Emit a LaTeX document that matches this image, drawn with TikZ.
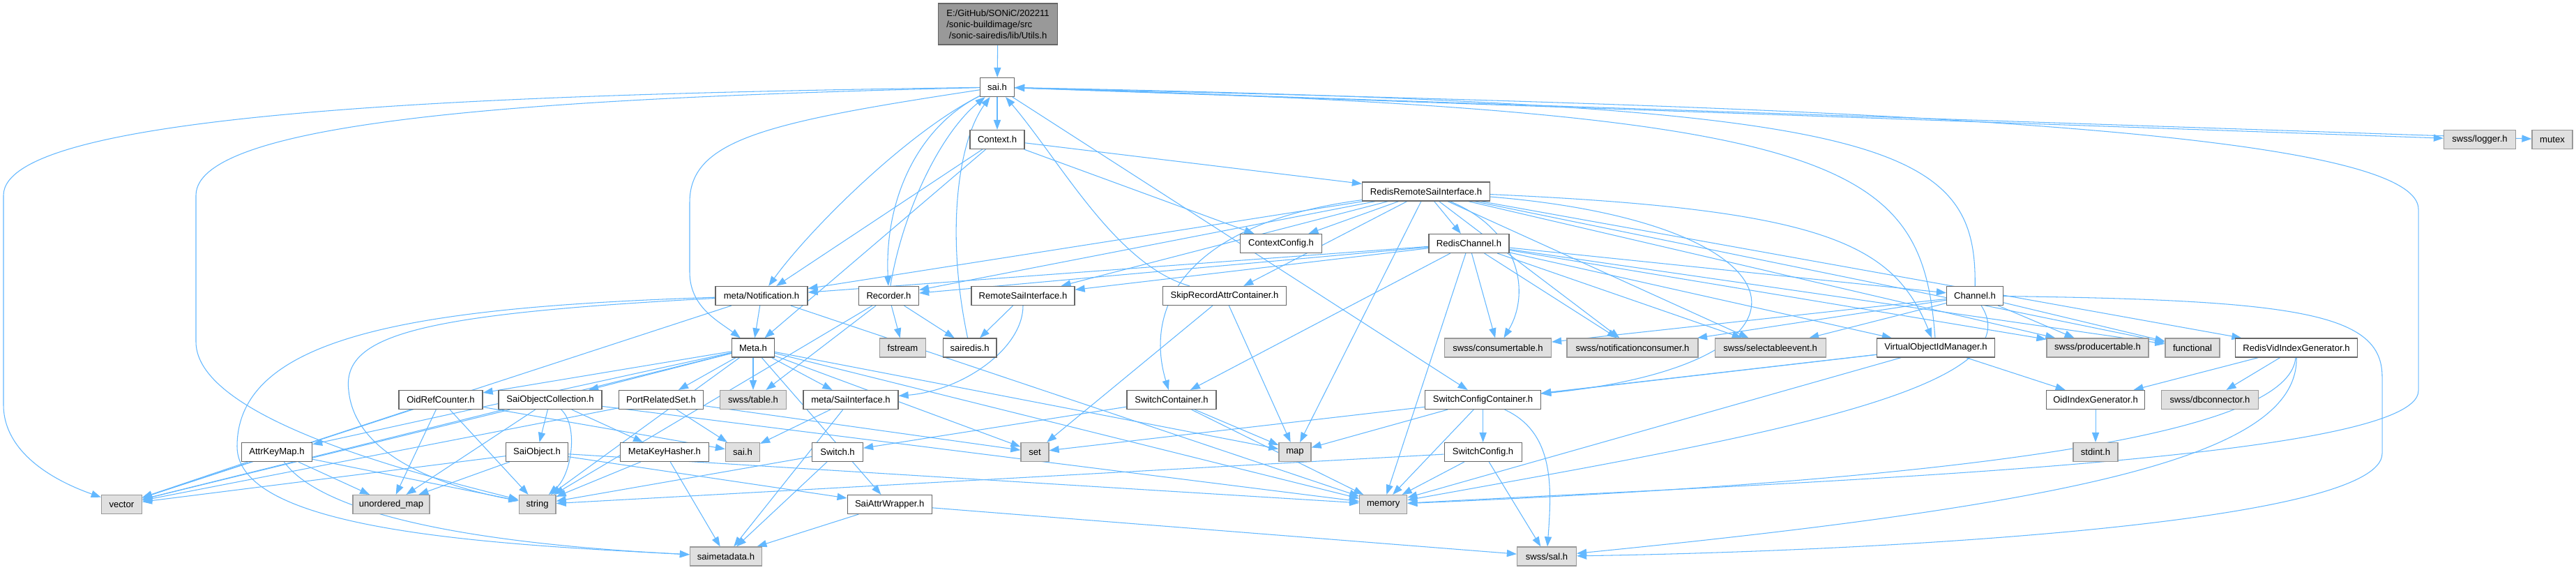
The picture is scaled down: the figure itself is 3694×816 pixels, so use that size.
\documentclass[tikz,border=0pt]{standalone}
\usepackage{fontspec}
\setmainfont{Liberation Sans}
\usepackage{tikz}
\usetikzlibrary{arrows.meta, backgrounds}
\definecolor{edgeblue}{HTML}{63B8FF}
\definecolor{docborder}{HTML}{666666}
\definecolor{sysborder}{HTML}{999999}
\definecolor{sysfill}{HTML}{E0E0E0}
\definecolor{rootfill}{HTML}{999999}
\newcommand{\depfont}{\fontsize{7.45}{9.1}\selectfont}
\tikzstyle{docnode} = [draw=docborder, fill=white, rectangle, minimum height=0.54cm, inner sep=0pt, font=\depfont, line width=0.7pt]
\tikzstyle{sysnode} = [docnode, draw=sysborder, fill=sysfill]
\tikzstyle{rootnode} = [docnode, fill=rootfill, align=left]
\tikzstyle{dep} = [line width=0.6pt, color=edgeblue, -{Triangle[length=8pt, width=5.8pt]}]

\begin{document}
\begin{tikzpicture}[x=0.02cm, y=-0.02cm]
    \node (ut) [rootnode, minimum width=3.42cm, minimum height=1.18cm] at (1431,34.5) {E:/GitHub/SONiC/202211\\/sonic-buildimage/src\\\hspace*{0.28em}/sonic-sairedis/lib/Utils.h};
    \node (sai) [docnode, minimum width=0.98cm] at (1430,125) {sai.h};
    \node (ctx) [docnode, minimum width=1.56cm] at (1430,200) {Context.h};
    \node (log) [sysnode, minimum width=2.06cm] at (3556,200) {swss/logger.h};
    \node (mtx) [sysnode, minimum width=1.16cm] at (3660,200) {mutex};
    \node (rrsi) [docnode, minimum width=3.66cm] at (2045,274.5) {RedisRemoteSaiInterface.h};
    \node (cc) [docnode, minimum width=2.34cm] at (1837,349) {ContextConfig.h};
    \node (rch) [docnode, minimum width=2.30cm] at (2106.5,349) {RedisChannel.h};
    \node (ntf) [docnode, minimum width=2.64cm] at (1092,424) {meta/Notification.h};
    \node (rec) [docnode, minimum width=1.72cm] at (1274.5,424) {Recorder.h};
    \node (rsi) [docnode, minimum width=2.96cm] at (1467,424) {RemoteSaiInterface.h};
    \node (skip) [docnode, minimum width=3.54cm] at (1756,424) {SkipRecordAttrContainer.h};
    \node (chn) [docnode, minimum width=1.62cm] at (2832,424) {Channel.h};
    \node (meta) [docnode, minimum width=1.22cm] at (1080,498.5) {Meta.h};
    \node (fst) [sysnode, minimum width=1.32cm] at (1294.5,498.5) {fstream};
    \node (srd) [docnode, minimum width=1.54cm] at (1390.6,498.5) {sairedis.h};
    \node (cons) [sysnode, minimum width=3.06cm] at (2148,498.5) {swss/consumertable.h};
    \node (ncons) [sysnode, minimum width=3.76cm] at (2341,498.5) {swss/notificationconsumer.h};
    \node (sel) [sysnode, minimum width=3.18cm] at (2538.6,498.5) {swss/selectableevent.h};
    \node (vom) [docnode, minimum width=3.38cm] at (2776,498.5) {VirtualObjectIdManager.h};
    \node (prod) [sysnode, minimum width=2.92cm] at (3008,498.5) {swss/producertable.h};
    \node (func) [sysnode, minimum width=1.56cm] at (3144,498.5) {functional};
    \node (rvig) [docnode, minimum width=3.50cm] at (3293,498.5) {RedisVidIndexGenerator.h};
    \node (orc) [docnode, minimum width=2.40cm] at (632,573) {OidRefCounter.h};
    \node (soc) [docnode, minimum width=2.96cm] at (789,573) {SaiObjectCollection.h};
    \node (prs) [docnode, minimum width=2.42cm] at (948,573) {PortRelatedSet.h};
    \node (tbl) [sysnode, minimum width=1.90cm] at (1080,573) {swss/table.h};
    \node (msi) [docnode, minimum width=2.72cm] at (1220,573) {meta/SaiInterface.h};
    \node (swc) [docnode, minimum width=2.56cm] at (1680,573) {SwitchContainer.h};
    \node (scc) [docnode, minimum width=3.32cm] at (2126.6,573) {SwitchConfigContainer.h};
    \node (oig) [docnode, minimum width=2.82cm] at (3005,573) {OidIndexGenerator.h};
    \node (dbc) [sysnode, minimum width=2.78cm] at (3169,573) {swss/dbconnector.h};
    \node (akm) [docnode, minimum width=2.02cm] at (397,648) {AttrKeyMap.h};
    \node (sob) [docnode, minimum width=1.78cm] at (770,648) {SaiObject.h};
    \node (mkh) [docnode, minimum width=2.54cm] at (953,648) {MetaKeyHasher.h};
    \node (sais) [sysnode, minimum width=0.98cm] at (1065,648) {sai.h};
    \node (sw) [docnode, minimum width=1.46cm] at (1201,648) {Switch.h};
    \node (set) [sysnode, minimum width=0.80cm] at (1484,648) {set};
    \node (map) [sysnode, minimum width=0.92cm] at (1857,648) {map};
    \node (scf) [docnode, minimum width=2.22cm] at (2126.6,648) {SwitchConfig.h};
    \node (sti) [sysnode, minimum width=1.28cm] at (3005,648) {stdint.h};
    \node (vec) [sysnode, minimum width=1.16cm] at (174.4,723) {vector};
    \node (umap) [sysnode, minimum width=2.20cm] at (561,723) {unordered\_map};
    \node (str) [sysnode, minimum width=1.06cm] at (770.6,723) {string};
    \node (saw) [docnode, minimum width=2.42cm] at (1275.7,723) {SaiAttrWrapper.h};
    \node (mem) [sysnode, minimum width=1.36cm] at (1983.7,723) {memory};
    \node (smd) [sysnode, minimum width=2.06cm] at (1041,797.5) {saimetadata.h};
    \node (sal) [sysnode, minimum width=1.70cm] at (2218,797.5) {swss/sal.h};

    \begin{scope}[on background layer]
    \fill [white] (0,0) rectangle (3694,816);
    \useasboundingbox (0,0) rectangle (3694,816);
    \draw [dep] (ut) -- (sai);
    \draw [dep] (sai) -- (ctx);
    \draw [dep] (sai) -- (log);
    \draw [dep] (sai) -- (mtx);
    \draw [dep] (sai) .. controls (700,135) and (5,160) .. (5,280) -- (5,580) .. controls (5,650) and (80,690) .. (vec);
    \draw [dep] (sai) .. controls (800,140) and (281,170) .. (281,280) -- (281,490) .. controls (281,600) and (600,680) .. (str);
    \draw [dep] (sai) .. controls (1100,175) and (989,200) .. (989,290) -- (989,390) .. controls (989,440) and (1030,460) .. (meta);
    \draw [dep] (sai) .. controls (2400,150) and (3468,170) .. (3468,300) -- (3468,560) .. controls (3468,660) and (2600,690) .. (mem);
    \draw [dep] (sai) .. controls (1320,180) and (1268,280) .. (rec);
    \draw [dep] (sai) .. controls (1300,190) and (1160,330) .. (ntf);
    \draw [dep] (sai) -- (scc);
    \draw [dep] (ctx) -- (cc);
    \draw [dep] (ctx) -- (rrsi);
    \draw [dep] (ctx) -- (ntf);
    \draw [dep] (ctx) -- (meta);
    \draw [dep] (rrsi) -- (cc);
    \draw [dep] (rrsi) -- (rch);
    \draw [dep] (rrsi) -- (rec);
    \draw [dep] (rrsi) -- (ntf);
    \draw [dep] (rrsi) -- (rsi);
    \draw [dep] (rrsi) -- (skip);
    \draw [dep] (rrsi) -- (map);
    \draw [dep] (rrsi) .. controls (2180,330) and (2195,420) .. (cons);
    \draw [dep] (rrsi) -- (ncons);
    \draw [dep] (rrsi) -- (sel);
    \draw [dep] (rrsi) -- (prod);
    \draw [dep] (rrsi) -- (func);
    \draw [dep] (rrsi) .. controls (2620,300) and (2715,350) .. (vom);
    \draw [dep] (rrsi) -- (rvig);
    \draw [dep] (rrsi) .. controls (2600,320) and (2640,520) .. (scc);
    \draw [dep] (rrsi) .. controls (1700,320) and (1640,440) .. (swc);
    \draw [dep] (rch) -- (chn);
    \draw [dep] (rch) -- (rec);
    \draw [dep] (rch) -- (ntf);
    \draw [dep] (rch) -- (rsi);
    \draw [dep] (rch) -- (swc);
    \draw [dep] (rch) -- (mem);
    \draw [dep] (rch) -- (cons);
    \draw [dep] (rch) -- (ncons);
    \draw [dep] (rch) -- (sel);
    \draw [dep] (rch) -- (prod);
    \draw [dep] (rch) -- (func);
    \draw [dep] (rch) -- (vom);
    \draw [dep] (chn) .. controls (2835,200) and (2700,150) .. (sai);
    \draw [dep] (chn) -- (cons);
    \draw [dep] (chn) -- (ncons);
    \draw [dep] (chn) -- (sel);
    \draw [dep] (chn) -- (prod);
    \draw [dep] (chn) -- (func);
    \draw [dep] (chn) .. controls (2920,560) and (2500,630) .. (mem);
    \draw [dep] (chn) .. controls (3300,430) and (3416,450) .. (3416,540) -- (3416,650) .. controls (3416,750) and (2700,790) .. (sal);
    \draw [dep] (vom) .. controls (2756,230) and (2650,160) .. (sai);
    \draw [dep] (vom) -- (oig);
    \draw [dep] (vom) -- (set);
    \draw [dep] (vom) -- (scc);
    \draw [dep] (vom) -- (mem);
    \draw [dep] (rvig) -- (oig);
    \draw [dep] (rvig) -- (dbc);
    \draw [dep] (rvig) .. controls (3285,600) and (3000,680) .. (mem);
    \draw [dep] (rvig) .. controls (3295,650) and (3000,720) .. (sal);
    \draw [dep] (oig) -- (sti);
    \draw [dep] (scc) -- (scf);
    \draw [dep] (scc) -- (map);
    \draw [dep] (scc) -- (mem);
    \draw [dep] (scc) .. controls (2230,620) and (2225,700) .. (sal);
    \draw [dep] (scf) -- (str);
    \draw [dep] (scf) -- (mem);
    \draw [dep] (scf) -- (sal);
    \draw [dep] (swc) -- (sw);
    \draw [dep] (swc) -- (map);
    \draw [dep] (swc) -- (mem);
    \draw [dep] (sw) -- (str);
    \draw [dep] (sw) -- (smd);
    \draw [dep] (skip) .. controls (1600,380) and (1520,230) .. (sai);
    \draw [dep] (skip) -- (set);
    \draw [dep] (skip) -- (map);
    \draw [dep] (rec) .. controls (1295,300) and (1350,190) .. (sai);
    \draw [dep] (rec) -- (fst);
    \draw [dep] (rec) -- (srd);
    \draw [dep] (rec) -- (tbl);
    \draw [dep] (rec) -- (str);
    \draw [dep] (rsi) -- (srd);
    \draw [dep] (rsi) .. controls (1467,500) and (1380,560) .. (msi);
    \draw [dep] (srd) .. controls (1355,330) and (1375,200) .. (sai);
    \draw [dep] (ntf) -- (meta);
    \draw [dep] (ntf) -- (vec);
    \draw [dep] (ntf) .. controls (600,450) and (490,480) .. (500,560) .. controls (510,660) and (650,700) .. (str);
    \draw [dep] (ntf) .. controls (600,440) and (340,480) .. (340,640) .. controls (340,760) and (700,780) .. (smd);
    \draw [dep] (ntf) -- (mem);
    \draw [dep] (meta) -- (orc);
    \draw [dep] (meta) -- (soc);
    \draw [dep] (meta) -- (prs);
    \draw [dep] (meta) -- (tbl);
    \draw [dep] (meta) -- (msi);
    \draw [dep] (meta) -- (akm);
    \draw [dep] (meta) -- (vec);
    \draw [dep] (meta) -- (str);
    \draw [dep] (meta) -- (set);
    \draw [dep] (meta) -- (map);
    \draw [dep] (meta) -- (mem);
    \draw [dep] (meta) -- (saw);
    \draw [dep] (msi) -- (sais);
    \draw [dep] (msi) -- (smd);
    \draw [dep] (orc) -- (umap);
    \draw [dep] (orc) -- (vec);
    \draw [dep] (orc) -- (str);
    \draw [dep] (orc) -- (sais);
    \draw [dep] (soc) -- (sob);
    \draw [dep] (soc) -- (mkh);
    \draw [dep] (soc) .. controls (830,610) and (820,680) .. (str);
    \draw [dep] (soc) -- (umap);
    \draw [dep] (soc) -- (vec);
    \draw [dep] (soc) -- (mem);
    \draw [dep] (prs) -- (sais);
    \draw [dep] (prs) -- (set);
    \draw [dep] (prs) -- (vec);
    \draw [dep] (sob) -- (saw);
    \draw [dep] (sob) -- (umap);
    \draw [dep] (sob) -- (vec);
    \draw [dep] (sob) -- (mem);
    \draw [dep] (mkh) -- (str);
    \draw [dep] (mkh) -- (smd);
    \draw [dep] (akm) -- (vec);
    \draw [dep] (akm) -- (umap);
    \draw [dep] (akm) -- (str);
    \draw [dep] (akm) .. controls (450,720) and (600,775) .. (smd);
    \draw [dep] (saw) -- (smd);
    \draw [dep] (saw) -- (sal);
    \end{scope}
\end{tikzpicture}
\end{document}
